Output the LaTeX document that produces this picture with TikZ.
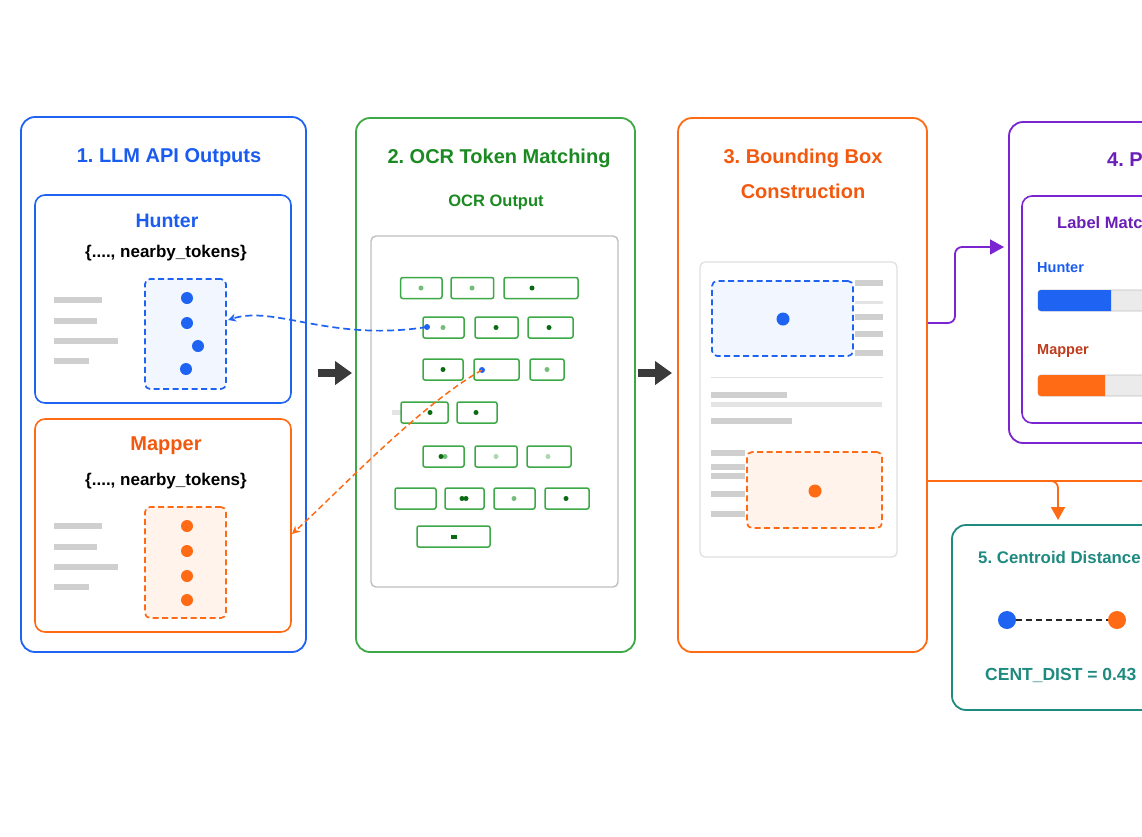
\documentclass[tikz,border=0pt]{standalone}
\usepackage{fontspec}
\setmainfont{Liberation Sans}
\usetikzlibrary{arrows.meta,calc}
\definecolor{cblue}{HTML}{1F63F2}
\definecolor{cbluet}{HTML}{1A5CF0}
\definecolor{cgreen}{HTML}{3DA846}
\definecolor{cgreent}{HTML}{1B8A22}
\definecolor{cdkg}{HTML}{0B6B12}
\definecolor{cltg}{HTML}{74BC7A}
\definecolor{corange}{HTML}{FF6A14}
\definecolor{coranget}{HTML}{F2590E}
\definecolor{cpurple}{HTML}{7A24D2}
\definecolor{cpurplet}{HTML}{6A1FB8}
\definecolor{cteal}{HTML}{1E8A80}
\definecolor{cred}{HTML}{C03A1C}
\definecolor{cdark}{HTML}{3A3A3A}
\definecolor{cbar}{HTML}{CFCFCF}
\definecolor{cbarl}{HTML}{E4E4E4}
\frenchspacing
\begin{document}
\begin{tikzpicture}[x=1pt,y=-1pt,
  panel/.style={draw, line width=1.8pt, rounded corners=14pt, inner sep=0pt, fill=white},
  subpanel/.style={draw, line width=1.6pt, rounded corners=10pt, inner sep=0pt, fill=white},
  dbox/.style={draw, line width=1.7pt, rounded corners=5pt, inner sep=0pt, dash pattern=on 6pt off 3.5pt},
  tok/.style={draw=cgreen, line width=1.5pt, rounded corners=2pt, inner sep=0pt, minimum height=21pt, fill=white},
  ttl/.style={font=\bfseries\fontsize{20}{24}\selectfont, inner sep=0pt},
  sub/.style={font=\bfseries\fontsize{17}{20}\selectfont, inner sep=0pt},
  txl/.style={line width=6pt, cbar},
  txll/.style={line width=5pt, cbarl},
  bigdot/.style={circle, inner sep=0pt, minimum size=12pt},
  fatarrow/.style={line width=8pt, cdark, -{Triangle[length=17pt,width=23pt]}},
]
\useasboundingbox (0,0) rectangle (1142,836);
\fill[white] (0,0) rectangle (1142,836);
\clip (0,0) rectangle (1142,836);

% ---------- Panel 1 ----------
\node[panel, draw=cblue, minimum width=285pt, minimum height=535pt] (p1) at (163.5,384.5) {};
\node[ttl, text=cbluet] (t1) at (169,158) {1. LLM API Outputs};
\node[subpanel, draw=cblue, minimum width=256pt, minimum height=208pt] (hunter) at (163,299) {};
\node[ttl, text=cbluet, font=\bfseries\fontsize{19.5}{23}\selectfont] (hl) at (167,221) {Hunter};
\node[sub] (hj) at (166,253) {\{...., nearby\_tokens\}};
\draw[txl] (54,300) -- (102,300) (54,321) -- (97,321) (54,341) -- (118,341) (54,361) -- (89,361);
\node[dbox, draw=cblue, fill=cblue!6, minimum width=81pt, minimum height=110pt] (hbox) at (185.5,334) {};
\foreach \x/\y in {187/298, 187/323, 198/346, 186/369} \fill[cblue] (\x,\y) circle[radius=6];

\node[subpanel, draw=corange, minimum width=256pt, minimum height=213pt] (mapper) at (163,525.5) {};
\node[ttl, text=coranget] (ml) at (166,446) {Mapper};
\node[sub] (mj) at (166,481) {\{...., nearby\_tokens\}};
\draw[txl] (54,526) -- (102,526) (54,547) -- (97,547) (54,567) -- (118,567) (54,587) -- (89,587);
\node[dbox, draw=corange, fill=corange!8, minimum width=81pt, minimum height=111pt] (mbox) at (185.5,562.5) {};
\foreach \y in {526,551,576,600} \fill[corange] (187,\y) circle[radius=6];

% ---------- Panel 2 ----------
\node[panel, draw=cgreen, minimum width=279pt, minimum height=534pt] (p2) at (495.5,385) {};
\node[ttl, text=cgreent] (t2) at (499,158) {2. OCR Token Matching};
\node[inner sep=0pt, text=cgreent, font=\bfseries\fontsize{16.5}{20}\selectfont] (ocrl) at (496,202) {OCR Output};
\node[draw=black!25, line width=1.4pt, rounded corners=5pt, inner sep=0pt, minimum width=247pt, minimum height=351pt] (ocr) at (494.5,411.5) {};
\draw[txll] (392,412) -- (420,412);
\foreach \n/\cx/\cy/\w in {
  t11/421.35/288/41.3, t12/472.35/288/42.7, t13/541/288/74,
  t21/443.5/327.5/41, t22/496.5/327.5/43, t23/550.5/327.5/45,
  t31/443/369.5/40, t32/496.5/369.5/45, t33/547/369.5/34,
  t41/424.5/412.5/47, t42/477/412.5/40,
  t51/443.5/456.5/41, t52/496/456.5/42, t53/549/456.5/44,
  t61/415.5/498.5/41, t62/464.5/498.5/39, t63/514.5/498.5/41, t64/567/498.5/44,
  t71/453.5/536.5/73}
  \node[tok, minimum width=\w pt] (\n) at (\cx,\cy) {};
\foreach \x/\y/\c in {
  421/288/cltg, 472/288/cltg, 532/288/cdkg,
  443/327.5/cltg, 496/327.5/cdkg, 549/327.5/cdkg,
  443/369.5/cdkg, 547/369.5/cltg,
  430/412.5/cdkg, 476/412.5/cdkg,
  445/456.5/cltg, 441/456.5/cdkg, 496/456.5/cltg!60, 548/456.5/cltg!60,
  462/498.5/cdkg, 466/498.5/cdkg, 514/498.5/cltg, 566/498.5/cdkg}
  \fill[\c] (\x,\y) circle[radius=2.5];
\fill[cdkg] (451,534.5) rectangle (457,538.5);
\node[circle, fill=cblue, inner sep=0pt, minimum size=6pt] (bd1) at (427,327) {};
\node[circle, fill=cblue, inner sep=0pt, minimum size=6pt] (bd2) at (482,370) {};

% ---------- Panel 3 ----------
\node[panel, draw=corange, minimum width=249pt, minimum height=534pt] (p3) at (802.5,385) {};
\node[ttl, text=coranget] (t3a) at (803,158) {3. Bounding Box};
\node[ttl, text=coranget] (t3b) at (803,191) {Construction};
\node[draw=black!12, line width=1.3pt, rounded corners=5pt, inner sep=0pt, minimum width=197pt, minimum height=295pt] (doc) at (798.5,409.5) {};
\draw[txl] (855,283) -- (883,283) (855,317) -- (883,317) (855,334) -- (883,334) (855,353) -- (883,353);
\draw[txll, line width=3pt] (855,302) -- (883,302);
\draw[black!12, line width=1pt] (711,377) -- (883,377);
\draw[txl] (711,395) -- (787,395) (711,421) -- (792,421);
\draw[txll] (711,404) -- (882,404);
\draw[txl] (711,453) -- (745,453) (711,467) -- (745,467) (711,476) -- (745,476) (711,494) -- (745,494) (711,514) -- (745,514);
\node[dbox, draw=cblue, fill=cblue!6, minimum width=141pt, minimum height=75pt] (bb1) at (782.5,318.5) {};
\fill[cblue] (783,319) circle[radius=6.5];
\node[dbox, draw=corange, fill=corange!8, minimum width=135pt, minimum height=76pt] (bb2) at (814.5,490) {};
\fill[corange] (815,491) circle[radius=6.5];

% ---------- Panel 4 ----------
\node[panel, draw=cpurple, minimum width=271pt, minimum height=321pt] (p4) at (1144.5,282.5) {};
\node[ttl, text=cpurplet, anchor=west] (t4) at (1107,160) {4. P};
\node[subpanel, draw=cpurple, minimum width=245pt, minimum height=227pt] (p4in) at (1144.5,309.5) {};
\node[inner sep=0pt, anchor=west, text=cpurplet, font=\bfseries\fontsize{16.5}{20}\selectfont] (lm) at (1057,223) {Label Matc};
\node[inner sep=0pt, anchor=west, text=cbluet, font=\bfseries\fontsize{14.5}{18}\selectfont] (h4) at (1037,268) {Hunter};
\node[inner sep=0pt, anchor=west, text=cred, font=\bfseries\fontsize{14.5}{18}\selectfont] (m4) at (1037,351) {Mapper};
\draw[black!25, fill=black!8, line width=0.8pt, rounded corners=3pt] (1038,290) rectangle (1220,311);
\fill[cblue, rounded corners=3pt] (1111,311) -- (1038,311) -- (1038,290) [sharp corners] -- (1111,290) -- cycle;
\draw[black!25, fill=black!8, line width=0.8pt, rounded corners=3pt] (1038,375) rectangle (1220,396);
\fill[corange, rounded corners=3pt] (1105,396) -- (1038,396) -- (1038,375) [sharp corners] -- (1105,375) -- cycle;

% ---------- Panel 5 ----------
\node[panel, draw=cteal, minimum width=298pt, minimum height=185pt] (p5) at (1101,617.5) {};
\node[inner sep=0pt, anchor=west, text=cteal, font=\bfseries\fontsize{16.8}{20}\selectfont] (t5) at (978,557) {5. Centroid Distance};
\node[bigdot, fill=cblue, minimum size=18pt] (ca) at (1007,620) {};
\node[bigdot, fill=corange, minimum size=18pt] (cb) at (1117,620) {};
\draw[black!85, line width=1.7pt, dash pattern=on 6pt off 4pt] (ca) -- (cb);
\node[inner sep=0pt, anchor=west, text=cteal, font=\bfseries\fontsize{17.5}{21}\selectfont] (cd) at (985,675) {CENT\_DIST = 0.43};

% ---------- Connectors ----------
\coordinate (a1s) at (318,373); \coordinate (a1e) at (352,373);
\coordinate (a2s) at (638,373); \coordinate (a2e) at (672,373);
\draw[fatarrow] (a1s) -- (a1e);
\draw[fatarrow] (a2s) -- (a2e);

\coordinate (hend) at (228,320);
\draw[cblue, line width=1.7pt, dash pattern=on 7pt off 4pt, -{Stealth[length=8pt,width=8pt]}]
  (bd1.center) .. controls (330,342) and (275,305) .. (hend);
\coordinate (mend) at (292,534);
\draw[corange, line width=1.5pt, dash pattern=on 6pt off 3.5pt, -{Stealth[length=8pt,width=8pt]}]
  (bd2.center) .. controls (420,405) and (340,490) .. (mend);

\coordinate (y323) at (0,323); \coordinate (y247) at (0,247); \coordinate (y481) at (0,481);
\coordinate (pk1) at (955,323); \coordinate (pk2) at (955,247); \coordinate (pend) at (1004,247);
\draw[cpurple, line width=1.8pt, rounded corners=7pt, -{Triangle[length=14pt,width=15pt]}]
  (p3.east |- y323) -- (pk1) -- (pk2) -- (pend);
\coordinate (ok1) at (1150,481); \coordinate (ok2) at (1040,481); \coordinate (ok3) at (1058,481); \coordinate (oend) at (1058,520);
\draw[corange, line width=1.8pt] (p3.east |- y481) -- (ok1);
\draw[corange, line width=1.8pt, rounded corners=7pt, -{Triangle[length=13pt,width=14pt]}]
  (ok2) -- (ok3) -- (oend);
\end{tikzpicture}
\end{document}
